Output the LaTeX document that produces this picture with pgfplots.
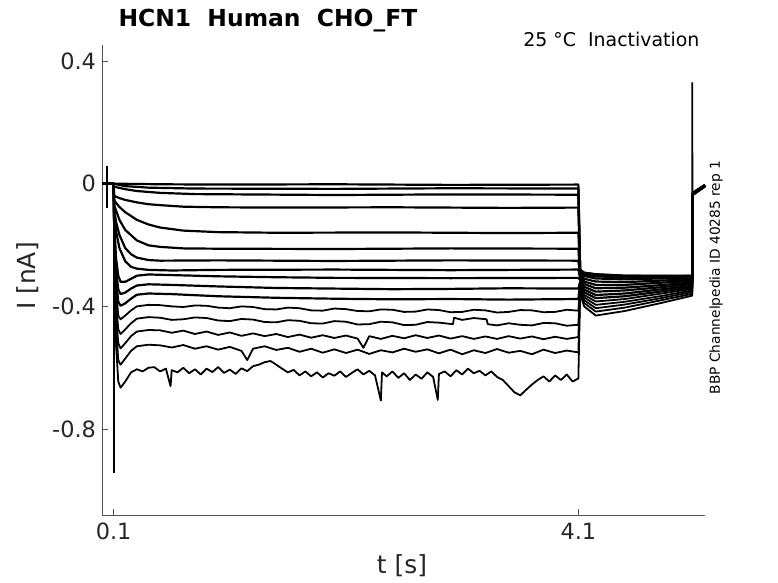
\documentclass[border=0pt]{standalone}
\usepackage{fontspec}
\setmainfont{DejaVu Sans}
\usepackage{pgfplots}
\pgfplotsset{compat=1.18}
\definecolor{axgray}{rgb}{0.15,0.15,0.15}
\begin{document}
\begin{tikzpicture}
\useasboundingbox (-102bp,-68bp) rectangle (676bp,515bp);
\begin{axis}[
  scale only axis, width=603bp, height=470bp,
  xmin=0, xmax=5.19, ymin=-1.08, ymax=0.452,
  axis x line*=bottom, axis y line*=left,
  xtick={0.1,4.1}, xticklabels={0.1,4.1},
  ytick={-0.8,-0.4,0,0.4}, yticklabels={-0.8,-0.4,0,0.4},
  tick align=inside, major tick length=6bp,
  axis line style={draw=axgray!80, line width=0.5pt},
  tick style={draw=axgray!80, line width=0.5pt},
  /pgf/number format/assume math mode=true,
  ticklabel style={font=\fontsize{22.5}{26}\selectfont, text=axgray},
  yticklabel style={xshift=-2.5bp},
  xticklabel style={yshift=-4.5bp},
  xlabel={t [s]}, ylabel={I [nA]},
  label style={font=\fontsize{25}{29}\selectfont, text=axgray},
  xlabel style={at={(axis description cs:0.4975,-0.1085)}, anchor=center},
  ylabel style={at={(axis description cs:-0.1235,0.5085)}, anchor=center},
  clip=false,
  tr/.style={black, line width=2.2pt, line join=round},
  tn/.style={black, line width=1.8pt, line join=round},
]
% pre-pulse baseline and capacitive artefacts
\addplot[black, line width=2.6pt] coordinates {(0,0) (0.1,0)};
\addplot[black, line width=1.8pt] coordinates {(0.04,0.059) (0.04,-0.078)};
\addplot[black, line width=1.8pt] coordinates {(0.1,0.0) (0.1,-0.943)};
\addplot[black, line width=1.6pt] coordinates {(5.08,-0.300) (5.08,0.330) (5.083,-0.030)};
% trace 1
\addplot[tr] coordinates {(0.1,0) (0.5,-0.002) (1,-0.003) (2,-0.002) (3,-0.004) (4.1,-0.003)
 (4.115,-0.280) (4.15,-0.290) (4.25,-0.295) (4.5,-0.300) (4.8,-0.300) (5.08,-0.300) (5.085,-0.030) (5.19,-0.004)};
% trace 2
\addplot[tr] coordinates {(0.1,0) (0.2,-0.008) (0.4,-0.013) (0.8,-0.016) (2,-0.017) (3,-0.015) (4.1,-0.016)
 (4.115,-0.281) (4.15,-0.291) (4.25,-0.296) (4.5,-0.300) (4.8,-0.301) (5.08,-0.301) (5.085,-0.030) (5.19,-0.004)};
% trace 3
\addplot[tr] coordinates {(0.1,0) (0.105,-0.010) (0.2,-0.018) (0.3,-0.024) (0.5,-0.030) (0.8,-0.034) (1.2,-0.035) (2,-0.037) (3,-0.035) (4.1,-0.036)
 (4.115,-0.282) (4.15,-0.292) (4.25,-0.298) (4.5,-0.302) (4.8,-0.302) (5.08,-0.301) (5.085,-0.031) (5.19,-0.005)};
% trace 4
\addplot[tr] coordinates {(0.1,0) (0.105,-0.040) (0.15,-0.047) (0.2,-0.053) (0.3,-0.061) (0.4,-0.067) (0.5,-0.070) (0.7,-0.075) (1.0,-0.077) (1.5,-0.078) (2.5,-0.077) (3.5,-0.079) (4.1,-0.078)
 (4.115,-0.284) (4.15,-0.296) (4.25,-0.302) (4.5,-0.306) (4.8,-0.305) (5.08,-0.303) (5.085,-0.031) (5.19,-0.005)};
% trace 5
\addplot[tr] coordinates {(0.1,0) (0.105,-0.055) (0.15,-0.076) (0.2,-0.093) (0.3,-0.118) (0.4,-0.133) (0.5,-0.143) (0.7,-0.153) (1.0,-0.158) (1.5,-0.160) (2.5,-0.159) (3.5,-0.161) (4.1,-0.160)
 (4.115,-0.288) (4.15,-0.301) (4.25,-0.309) (4.5,-0.312) (4.8,-0.309) (5.08,-0.307) (5.085,-0.032) (5.19,-0.005)};
% trace 6
\addplot[tr] coordinates {(0.1,0) (0.105,-0.070) (0.15,-0.118) (0.2,-0.151) (0.3,-0.185) (0.4,-0.201) (0.5,-0.206) (0.7,-0.211) (1.0,-0.212) (2,-0.213) (3,-0.211) (4.1,-0.212)
 (4.115,-0.294) (4.15,-0.310) (4.25,-0.319) (4.5,-0.321) (4.8,-0.316) (5.08,-0.312) (5.085,-0.032) (5.19,-0.006)};
% trace 7
\addplot[tr] coordinates {(0.1,0) (0.105,-0.080) (0.12,-0.123) (0.15,-0.167) (0.2,-0.210) (0.25,-0.230) (0.3,-0.241) (0.4,-0.249) (0.5,-0.251) (1,-0.250) (2,-0.252) (3,-0.250) (4.1,-0.251)
 (4.115,-0.301) (4.15,-0.319) (4.25,-0.330) (4.5,-0.330) (4.8,-0.323) (5.08,-0.317) (5.085,-0.033) (5.19,-0.006)};
% trace 8
\addplot[tr] coordinates {(0.1,0) (0.105,-0.090) (0.12,-0.153) (0.15,-0.210) (0.2,-0.253) (0.25,-0.271) (0.3,-0.277) (0.4,-0.281) (0.6,-0.283) (1.0,-0.281) (2,-0.280) (3,-0.282) (4.1,-0.280)
 (4.115,-0.307) (4.15,-0.327) (4.25,-0.341) (4.5,-0.339) (4.8,-0.331) (5.08,-0.322) (5.085,-0.033) (5.19,-0.006)};
% trace 9
\addplot[tr] coordinates {(0.1,0) (0.105,-0.120) (0.12,-0.240) (0.14,-0.300) (0.16,-0.320) (0.2,-0.320) (0.25,-0.310) (0.3,-0.300) (0.4,-0.296) (0.6,-0.298) (1.0,-0.302) (1.5,-0.305) (2,-0.307) (3,-0.308) (4.1,-0.307)
 (4.115,-0.314) (4.15,-0.336) (4.25,-0.352) (4.5,-0.348) (4.8,-0.338) (5.08,-0.327) (5.085,-0.034) (5.19,-0.007)};
% trace 10
\addplot[tr] coordinates {(0.1,0) (0.105,-0.140) (0.12,-0.280) (0.14,-0.345) (0.16,-0.360) (0.2,-0.355) (0.25,-0.342) (0.3,-0.332) (0.4,-0.328) (0.6,-0.330) (1,-0.335) (1.5,-0.340) (2,-0.342) (2.5,-0.344) (3,-0.343) (3.5,-0.341) (4.1,-0.342)
 (4.115,-0.320) (4.15,-0.345) (4.25,-0.363) (4.5,-0.358) (4.8,-0.345) (5.08,-0.333) (5.085,-0.034) (5.19,-0.007)};
% trace 11
\addplot[tr] coordinates {(0.1,0) (0.105,-0.150) (0.12,-0.310) (0.14,-0.385) (0.16,-0.398) (0.2,-0.390) (0.25,-0.375) (0.3,-0.362) (0.4,-0.358) (0.6,-0.360) (1.0,-0.367) (1.5,-0.372) (2.0,-0.375) (2.5,-0.377) (3.0,-0.376) (3.5,-0.378) (4.1,-0.376)
 (4.115,-0.326) (4.15,-0.354) (4.25,-0.373) (4.5,-0.367) (4.8,-0.352) (5.08,-0.338) (5.085,-0.035) (5.19,-0.007)};
% trace 12
\addplot[tn] coordinates {(0.1,0) (0.105,-0.170) (0.12,-0.340) (0.14,-0.430) (0.16,-0.442) (0.2,-0.430) (0.25,-0.413) (0.3,-0.400) (0.4,-0.395) (0.5,-0.396) (0.6,-0.400) (0.7,-0.402) (0.8,-0.397) (0.9,-0.398) (1.0,-0.404) (1.1,-0.406) (1.2,-0.400) (1.3,-0.402) (1.4,-0.409) (1.5,-0.410) (1.6,-0.404) (1.7,-0.406) (1.8,-0.413) (1.9,-0.414) (2.0,-0.407) (2.1,-0.409) (2.2,-0.415) (2.3,-0.416) (2.4,-0.410) (2.5,-0.411) (2.6,-0.418) (2.7,-0.417) (2.8,-0.410) (2.9,-0.412) (3.0,-0.419) (3.1,-0.418) (3.2,-0.411) (3.3,-0.413) (3.4,-0.420) (3.5,-0.418) (3.6,-0.412) (3.7,-0.413) (3.8,-0.419) (3.9,-0.418) (4.0,-0.411) (4.1,-0.414)
 (4.115,-0.333) (4.15,-0.363) (4.25,-0.384) (4.5,-0.376) (4.8,-0.359) (5.08,-0.343) (5.085,-0.035) (5.19,-0.008)};
% trace 13
\addplot[tn] coordinates {(0.1,0) (0.105,-0.190) (0.12,-0.380) (0.14,-0.475) (0.16,-0.490) (0.2,-0.475) (0.25,-0.455) (0.3,-0.440) (0.4,-0.435) (0.5,-0.437) (0.6,-0.444) (0.7,-0.442) (0.8,-0.436) (0.9,-0.438) (1.0,-0.446) (1.1,-0.448) (1.2,-0.441) (1.3,-0.443) (1.4,-0.451) (1.5,-0.452) (1.6,-0.445) (1.7,-0.447) (1.8,-0.455) (1.9,-0.456) (2.0,-0.448) (2.1,-0.450) (2.2,-0.459) (2.3,-0.458) (2.4,-0.450) (2.5,-0.452) (2.6,-0.461) (2.7,-0.460) (2.8,-0.451) (2.9,-0.453) (3.02,-0.458) (3.03,-0.437) (3.1,-0.444) (3.2,-0.438) (3.31,-0.442) (3.32,-0.458) (3.4,-0.462) (3.5,-0.455) (3.6,-0.460) (3.7,-0.462) (3.8,-0.454) (3.9,-0.455) (4.0,-0.463) (4.1,-0.460)
 (4.115,-0.339) (4.15,-0.371) (4.25,-0.395) (4.5,-0.385) (4.8,-0.367) (5.08,-0.348) (5.085,-0.036) (5.19,-0.008)};
% trace 14
\addplot[tn] coordinates {(0.1,0) (0.105,-0.200) (0.12,-0.420) (0.14,-0.520) (0.16,-0.537) (0.2,-0.520) (0.25,-0.497) (0.3,-0.482) (0.4,-0.477) (0.5,-0.478) (0.6,-0.486) (0.7,-0.479) (0.8,-0.490) (0.9,-0.482) (1.0,-0.493) (1.1,-0.485) (1.2,-0.496) (1.3,-0.488) (1.4,-0.497) (1.5,-0.490) (1.6,-0.500) (1.7,-0.492) (1.8,-0.502) (1.9,-0.494) (2.0,-0.503) (2.1,-0.495) (2.2,-0.505) (2.25,-0.535) (2.3,-0.497) (2.4,-0.506) (2.5,-0.496) (2.6,-0.504) (2.7,-0.494) (2.8,-0.503) (2.9,-0.495) (3.0,-0.505) (3.1,-0.497) (3.2,-0.506) (3.3,-0.498) (3.4,-0.506) (3.5,-0.497) (3.6,-0.505) (3.7,-0.498) (3.8,-0.507) (3.9,-0.499) (4.0,-0.506) (4.1,-0.500)
 (4.115,-0.346) (4.15,-0.380) (4.25,-0.406) (4.5,-0.394) (4.8,-0.374) (5.08,-0.353) (5.085,-0.036) (5.19,-0.009)};
% trace 15
\addplot[tn] coordinates {(0.1,0) (0.105,-0.220) (0.12,-0.460) (0.14,-0.575) (0.16,-0.590) (0.2,-0.570) (0.25,-0.545) (0.3,-0.530) (0.4,-0.525) (0.5,-0.527) (0.6,-0.534) (0.7,-0.526) (0.8,-0.538) (0.9,-0.530) (1.0,-0.541) (1.1,-0.532) (1.2,-0.545) (1.25,-0.575) (1.3,-0.538) (1.4,-0.530) (1.5,-0.542) (1.6,-0.535) (1.7,-0.548) (1.8,-0.538) (1.9,-0.551) (2.0,-0.540) (2.1,-0.552) (2.2,-0.541) (2.3,-0.555) (2.4,-0.543) (2.5,-0.550) (2.6,-0.538) (2.7,-0.548) (2.8,-0.540) (2.9,-0.553) (3.0,-0.541) (3.1,-0.556) (3.2,-0.543) (3.3,-0.552) (3.4,-0.539) (3.5,-0.551) (3.6,-0.545) (3.7,-0.556) (3.8,-0.541) (3.9,-0.552) (4.0,-0.544) (4.1,-0.550)
 (4.115,-0.352) (4.15,-0.389) (4.25,-0.417) (4.5,-0.404) (4.8,-0.381) (5.08,-0.359) (5.085,-0.037) (5.19,-0.009)};
% trace 16
\addplot[tn] coordinates {(0.1,0) (0.105,-0.250) (0.12,-0.520) (0.14,-0.645) (0.16,-0.665) (0.2,-0.645) (0.25,-0.615) (0.3,-0.605) (0.35,-0.612) (0.4,-0.600) (0.45,-0.598) (0.5,-0.612) (0.55,-0.603) (0.59,-0.660) (0.6,-0.608) (0.65,-0.615) (0.7,-0.600) (0.75,-0.618) (0.8,-0.605) (0.85,-0.622) (0.9,-0.603) (0.95,-0.614) (1.0,-0.598) (1.05,-0.617) (1.1,-0.606) (1.15,-0.620) (1.2,-0.602) (1.25,-0.611) (1.3,-0.595) (1.35,-0.590) (1.4,-0.582) (1.45,-0.578) (1.5,-0.590) (1.55,-0.603) (1.6,-0.615) (1.65,-0.607) (1.7,-0.625) (1.75,-0.612) (1.8,-0.628) (1.85,-0.615) (1.9,-0.632) (1.95,-0.618) (2.0,-0.626) (2.05,-0.612) (2.1,-0.630) (2.15,-0.617) (2.2,-0.605) (2.25,-0.622) (2.3,-0.610) (2.35,-0.625) (2.4,-0.707) (2.41,-0.615) (2.45,-0.628) (2.5,-0.612) (2.55,-0.633) (2.6,-0.618) (2.65,-0.640) (2.7,-0.622) (2.75,-0.636) (2.8,-0.615) (2.85,-0.630) (2.89,-0.705) (2.9,-0.620) (2.95,-0.612) (3.0,-0.628) (3.05,-0.608) (3.1,-0.622) (3.15,-0.603) (3.2,-0.618) (3.25,-0.610) (3.3,-0.625) (3.35,-0.612) (3.4,-0.630) (3.45,-0.640) (3.5,-0.660) (3.55,-0.680) (3.6,-0.690) (3.65,-0.672) (3.7,-0.655) (3.75,-0.640) (3.8,-0.628) (3.85,-0.645) (3.9,-0.625) (3.95,-0.640) (4.0,-0.622) (4.05,-0.645) (4.1,-0.635)
 (4.115,-0.360) (4.15,-0.400) (4.25,-0.430) (4.5,-0.415) (4.8,-0.390) (5.08,-0.365) (5.085,-0.037) (5.19,-0.010)};
\end{axis}
\node[anchor=base west, font=\bfseries\fontsize{23.5}{27}\selectfont] at (13bp,488bp) {HCN1\ \ Human\ \ CHO\_FT};
\node[anchor=base east, font=\fontsize{19}{22}\selectfont] at (601bp,468bp) {25 °C\ \ Inactivation};
\node[anchor=center, rotate=90, font=\fontsize{13.8}{16}\selectfont] at (614bp,237.5bp) {BBP Channelpedia ID 40285 rep 1};
\end{tikzpicture}
\end{document}
